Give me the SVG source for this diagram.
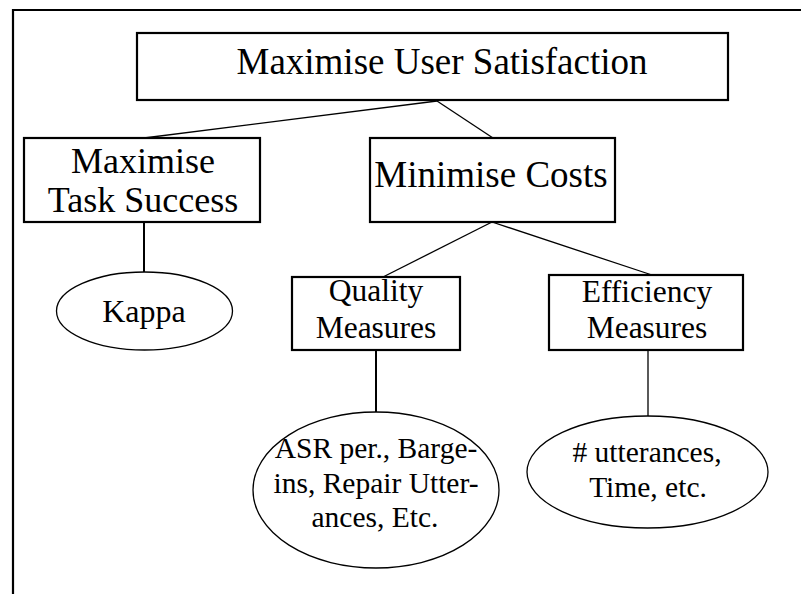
<svg xmlns="http://www.w3.org/2000/svg" width="801" height="594" viewBox="0 0 801 594">
  <style>
    .frame { fill: none; stroke: #000; stroke-width: 2.2; }
    .box { fill: #fff; stroke: #000; stroke-width: 2.2; }
    .oval { fill: #fff; stroke: #000; stroke-width: 1.3; }
    .link { fill: none; stroke: #000; stroke-width: 1.3; }
    .stem { fill: none; stroke: #000; stroke-width: 2; }
    text { font-family: "Liberation Serif", "Times New Roman", serif; fill: #000; text-anchor: middle; }
  </style>
  <rect width="801" height="594" fill="#fff"/>
  <!-- page frame: top and left edges only -->
  <path class="frame" d="M13 594 V10 H801"/>

  <g id="connectors">
    <line class="link" x1="437" y1="101" x2="144" y2="138"/>
    <line class="link" x1="437" y1="101" x2="493" y2="138"/>
    <line class="link" x1="492" y1="222" x2="383" y2="277"/>
    <line class="link" x1="492" y1="222" x2="652" y2="275"/>
    <line class="stem" x1="144" y1="222" x2="144" y2="272"/>
    <line class="stem" x1="376" y1="350" x2="376" y2="412"/>
    <line class="link" x1="648" y1="350" x2="648" y2="416"/>
  </g>

  <g id="user-satisfaction">
    <rect class="box" x="137" y="33" width="591" height="67"/>
    <text x="442" y="74" font-size="37">Maximise User Satisfaction</text>
  </g>

  <g id="task-success">
    <rect class="box" x="24" y="138" width="236" height="84"/>
    <text x="143" y="173" font-size="36">Maximise</text>
    <text x="143" y="212" font-size="36">Task Success</text>
  </g>

  <g id="costs">
    <rect class="box" x="370" y="138" width="245" height="84"/>
    <text x="491" y="187" font-size="37">Minimise Costs</text>
  </g>

  <g id="quality">
    <rect class="box" x="292" y="277" width="168" height="73"/>
    <text x="376" y="301" font-size="31.5">Quality</text>
    <text x="376" y="338" font-size="31.5">Measures</text>
  </g>

  <g id="efficiency">
    <rect class="box" x="549" y="275" width="194" height="75"/>
    <text x="647" y="302" font-size="31.5">Efficiency</text>
    <text x="647" y="338" font-size="31.5">Measures</text>
  </g>

  <g id="kappa">
    <ellipse class="oval" cx="144.5" cy="311" rx="88" ry="39"/>
    <text x="144" y="322" font-size="32">Kappa</text>
  </g>

  <g id="quality-items">
    <ellipse class="oval" cx="376" cy="490" rx="123" ry="78"/>
    <text x="376" y="458" font-size="29.5">ASR per., Barge-</text>
    <text x="376" y="493" font-size="29.5">ins, Repair Utter-</text>
    <text x="375" y="527" font-size="29.5">ances, Etc.</text>
  </g>

  <g id="efficiency-items">
    <ellipse class="oval" cx="647.5" cy="472" rx="120.5" ry="56"/>
    <text x="647" y="462" font-size="29.5"># utterances,</text>
    <text x="648" y="497" font-size="29.5">Time, etc.</text>
  </g>
</svg>
